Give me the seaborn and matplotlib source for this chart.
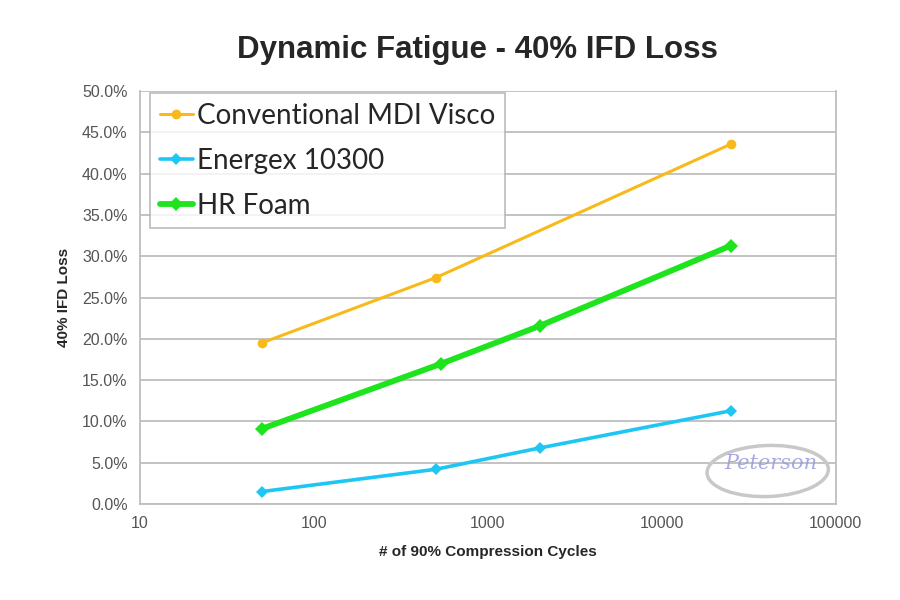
import pandas as pd
import matplotlib.pyplot as plt
import seaborn as sns
from matplotlib.ticker import PercentFormatter, FixedLocator, FixedFormatter, NullLocator
from matplotlib.patches import Ellipse

# data (cycles, % loss)
visco_x = [50, 500, 25000]
visco_y = [19.5, 27.4, 43.6]
energex_x = [50, 500, 2000, 25000]
energex_y = [1.5, 4.2, 6.8, 11.3]
hr_x = [50, 540, 2000, 25000]
hr_y = [9.1, 17.0, 21.6, 31.3]

series_names = ["Conventional MDI Visco", "Energex 10300", "HR Foam"]
x_ticks = [10, 100, 1000, 10000, 100000]
y_ticks = [0, 5, 10, 15, 20, 25, 30, 35, 40, 45, 50]

df = pd.concat([
    pd.DataFrame({"cycles": visco_x, "loss": visco_y, "foam": series_names[0]}),
    pd.DataFrame({"cycles": energex_x, "loss": energex_y, "foam": series_names[1]}),
    pd.DataFrame({"cycles": hr_x, "loss": hr_y, "foam": series_names[2]}),
])

sns.set_style("white")
plt.rcParams['font.family'] = ['Liberation Sans', 'DejaVu Sans']

colors = {"Conventional MDI Visco": "#F8BA1A", "Energex 10300": "#1EC6F4", "HR Foam": "#1EE41E"}
markers = {"Conventional MDI Visco": "o", "Energex 10300": "D", "HR Foam": "D"}
widths = {"Conventional MDI Visco": 2.2, "Energex 10300": 2.6, "HR Foam": 4.2}
msizes = {"Conventional MDI Visco": 7, "Energex 10300": 6, "HR Foam": 7}

fig = plt.figure(figsize=(9, 6), dpi=100)
ax = fig.add_axes([0.1556, 0.16, 0.773, 0.688])

for name in series_names:
    sub = df[df["foam"] == name]
    sns.lineplot(data=sub, x="cycles", y="loss", ax=ax, color=colors[name],
                 marker=markers[name], markersize=msizes[name], markeredgewidth=0,
                 linewidth=widths[name], label=name)

ax.set_xscale("log")
ax.set_xlim(10, 100000)
ax.set_ylim(0, 50)
ax.xaxis.set_major_locator(FixedLocator(x_ticks))
ax.xaxis.set_major_formatter(FixedFormatter([str(t) for t in x_ticks]))
ax.xaxis.set_minor_locator(NullLocator())
ax.set_yticks(y_ticks)
ax.yaxis.set_major_formatter(PercentFormatter(decimals=1))

ax.grid(axis="y", color="#BEBEBE", linewidth=1.3)
ax.grid(axis="x", visible=False)
ax.set_axisbelow(True)
for s in ["left", "bottom", "right"]:
    ax.spines[s].set_color("#BEBEBE")
    ax.spines[s].set_linewidth(1.3)
ax.spines["top"].set_visible(False)
ax.tick_params(axis="both", colors="#BEBEBE", length=5, width=1.3, direction="out",
               labelcolor="#555555", labelsize=11.5)
ax.tick_params(axis="x", pad=4)
ax.tick_params(axis="y", pad=4)

ax.set_xlabel("# of 90% Compression Cycles", fontsize=11, fontweight="bold", labelpad=10)
ax.set_ylabel("40% IFD Loss", fontsize=11, fontweight="bold", labelpad=8)
fig.suptitle("Dynamic Fatigue - 40% IFD Loss", x=0.53, y=0.942, fontsize=22.5, fontweight="bold")

leg = ax.legend(loc="upper left", bbox_to_anchor=(0.014, 0.995), prop={"family": "Lato", "size": 20},
                frameon=True, fancybox=False, handlelength=1.2, handletextpad=0.15,
                borderpad=0.35, labelspacing=0.68, borderaxespad=0)
leg.get_frame().set_edgecolor("#AAAAAA")
leg.get_frame().set_linewidth(1.2)

# watermark logo
logo = Ellipse((0.853, 0.215), 0.135, 0.085, transform=fig.transFigure, fill=False,
               edgecolor="#C8C8C8", linewidth=2.5, angle=4)
fig.add_artist(logo)
fig.text(0.857, 0.228, "Peterson", fontsize=15, style="italic", family="DejaVu Serif",
         color="#9A9AE0", ha="center", va="center", alpha=0.85)

fig.savefig("out.png", dpi=100)
